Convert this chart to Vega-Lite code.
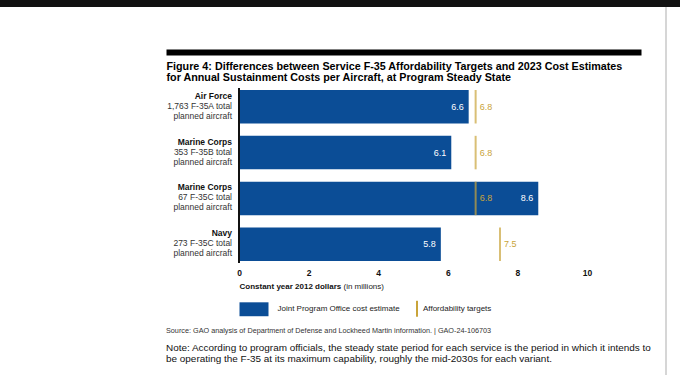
{
  "$schema": "https://vega.github.io/schema/vega-lite/v6.json",
  "width": 475,
  "height": 175,
  "autosize": {"type": "none"},
  "padding": {"left": 166, "top": 88, "right": 39, "bottom": 112},
  "background": "white",
  "config": {
    "font": "Liberation Sans",
    "view": {"stroke": null},
    "axis": {"grid": false}
  },
  "title": {
    "text": "Source: GAO analysis of Department of Defense and Lockheed Martin information.  |  GAO-24-106703",
    "subtitle": ["Note: According to program officials, the steady state period for each service is the period in which it intends to", "be operating the F-35 at its maximum capability, roughly the mid-2030s for each variant."],
    "orient": "bottom",
    "anchor": "start",
    "frame": "group",
    "offset": -48,
    "fontSize": 7.25,
    "fontWeight": "normal",
    "color": "#333333",
    "subtitleFontSize": 9.95,
    "subtitleColor": "#111111",
    "subtitlePadding": 9,
    "subtitleLineHeight": 10.8
  },
  "data": {
    "values": [
      {"id": "a", "service": "Air Force", "line2": "1,763 F-35A total", "line3": "planned aircraft", "estimate": 6.6, "target": 6.8},
      {"id": "b", "service": "Marine Corps", "line2": "353 F-35B total", "line3": "planned aircraft", "estimate": 6.1, "target": 6.8},
      {"id": "c", "service": "Marine Corps", "line2": "67 F-35C total", "line3": "planned aircraft", "estimate": 8.6, "target": 6.8},
      {"id": "d", "service": "Navy", "line2": "273 F-35C total", "line3": "planned aircraft", "estimate": 5.8, "target": 7.5}
    ]
  },
  "resolve": {"axis": {"x": "independent"}},
  "layer": [
    {
      "mark": {"type": "bar"},
      "encoding": {
        "y": {
          "field": "id", "type": "nominal", "sort": null,
          "scale": {"paddingInner": 0.27, "paddingOuter": 0.044},
          "axis": null
        },
        "x": {
          "field": "estimate", "type": "quantitative",
          "scale": {"domain": [-2.098, 11.552], "nice": false, "zero": false},
          "axis": {
            "orient": "bottom", "values": [0, 2, 4, 6, 8, 10], "domain": false, "ticks": false,
            "labelPadding": 5, "labelFontSize": 8.5, "labelFontWeight": "bold", "labelColor": "#111111",
            "title": "Constant year 2012 dollars", "titleX": 73, "titleY": 25, "titleAlign": "left", "titleAnchor": "start",
            "titleBaseline": "alphabetic", "titleFontSize": 8, "titleFontWeight": "bold", "titleColor": "#111111"
          }
        },
        "x2": {"datum": 0},
        "color": {
          "datum": "Joint Program Office cost estimate",
          "scale": {"domain": ["Joint Program Office cost estimate", "Affordability targets"], "range": ["#0b4d96", "#c9a43a"]},
          "legend": {
            "orient": "none", "legendX": 72.5, "legendY": 205, "direction": "horizontal", "title": null,
            "symbolSize": 841, "labelFontSize": 8, "labelOffset": 8, "labelColor": "#222222", "columnPadding": 1, "padding": 0,
            "encode": {
              "symbols": {"update": {
                "shape": {"signal": "datum.value === 'Affordability targets' ? 'M-0.07,-0.55H0.07V0.55H-0.07Z' : 'M-1,-0.48H1V0.48H-1Z'"},
                "fill": {"signal": "datum.value === 'Affordability targets' ? '#c9a43a' : '#0b4d96'"},
                "stroke": {"value": "transparent"},
                "opacity": {"value": 1},
                "fillOpacity": {"value": 1}
              }},
              "labels": {"update": {"dx": {"signal": "datum.value === 'Affordability targets' ? -17.5 : 0"}}}
            }
          }
        }
      }
    },
    {
      "mark": {"type": "tick", "thickness": 2, "size": 33.5},
      "encoding": {
        "y": {"field": "id", "type": "nominal", "sort": null, "axis": null},
        "x": {
          "field": "target", "type": "quantitative",
          "axis": {
            "orient": "top", "offset": 36, "domainWidth": 6, "domainColor": "#000000", "domainCap": "butt",
            "labels": false, "ticks": false,
            "title": ["Figure 4: Differences between Service F-35 Affordability Targets and 2023 Cost Estimates", "for Annual Sustainment Costs per Aircraft, at Program Steady State"],
            "titleX": 0, "titleY": 17, "titleAlign": "left", "titleAnchor": "start", "titleBaseline": "alphabetic",
            "titleFontSize": 10.75, "titleFontWeight": "bold", "titleLineHeight": 11.8, "titleColor": "#000000"
          }
        },
        "color": {"datum": "Affordability targets"}
      }
    },
    {
      "mark": {"type": "text", "align": "right", "baseline": "middle", "dx": -5, "fontSize": 9, "color": "#ffffff"},
      "encoding": {
        "y": {"field": "id", "type": "nominal", "sort": null, "axis": null},
        "x": {
          "field": "estimate", "type": "quantitative",
          "axis": {
            "orient": "bottom", "domain": false, "ticks": false, "labels": false,
            "title": "(in millions)", "titleX": 177, "titleY": 25, "titleAlign": "left", "titleAnchor": "start",
            "titleBaseline": "alphabetic", "titleFontSize": 8, "titleFontWeight": "normal", "titleColor": "#222222"
          }
        },
        "text": {"field": "estimate", "type": "quantitative", "format": ".1f"}
      }
    },
    {
      "mark": {"type": "text", "align": "left", "baseline": "middle", "dx": 4, "fontSize": 9, "color": "#c9a43a"},
      "encoding": {
        "y": {"field": "id", "type": "nominal", "sort": null, "axis": null},
        "x": {"field": "target", "type": "quantitative", "axis": null},
        "text": {"field": "target", "type": "quantitative", "format": ".1f"}
      }
    },
    {
      "mark": {"type": "text", "align": "right", "baseline": "alphabetic", "dx": -7, "dy": -8, "fontSize": 8.5, "fontWeight": "bold", "color": "#111111"},
      "encoding": {
        "y": {"field": "id", "type": "nominal", "sort": null, "axis": null},
        "x": {"datum": 0, "type": "quantitative", "axis": null},
        "text": {"field": "service"}
      }
    },
    {
      "mark": {"type": "text", "align": "right", "baseline": "alphabetic", "dx": -7, "dy": 2, "fontSize": 8.5, "color": "#333333"},
      "encoding": {
        "y": {"field": "id", "type": "nominal", "sort": null, "axis": null},
        "x": {"datum": 0, "type": "quantitative", "axis": null},
        "text": {"field": "line2"}
      }
    },
    {
      "mark": {"type": "text", "align": "right", "baseline": "alphabetic", "dx": -7, "dy": 12, "fontSize": 8.5, "color": "#333333"},
      "encoding": {
        "y": {"field": "id", "type": "nominal", "sort": null, "axis": null},
        "x": {"datum": 0, "type": "quantitative", "axis": null},
        "text": {"field": "line3"}
      }
    },
    {
      "mark": {"type": "rule", "strokeWidth": 2},
      "encoding": {
        "x": {"datum": 0, "type": "quantitative", "axis": null},
        "stroke": {
          "field": "target", "type": "quantitative",
          "scale": {"range": ["#111111", "#111111"]},
          "legend": {"orient": "none", "legendX": -166, "legendY": -88, "direction": "horizontal", "gradientLength": 680, "gradientThickness": 7, "gradientStrokeWidth": 0, "title": null, "labelOpacity": 0, "labelFontSize": 1, "padding": 0}
        },
        "fill": {
          "field": "estimate", "type": "quantitative",
          "scale": {"range": ["#d6d6d6", "#d6d6d6"]},
          "legend": {"orient": "none", "legendX": 499, "legendY": -81, "direction": "vertical", "gradientLength": 368, "gradientThickness": 2, "gradientStrokeWidth": 0, "title": null, "labelOpacity": 0, "labelFontSize": 1, "padding": 0}
        }
      }
    }
  ]
}
